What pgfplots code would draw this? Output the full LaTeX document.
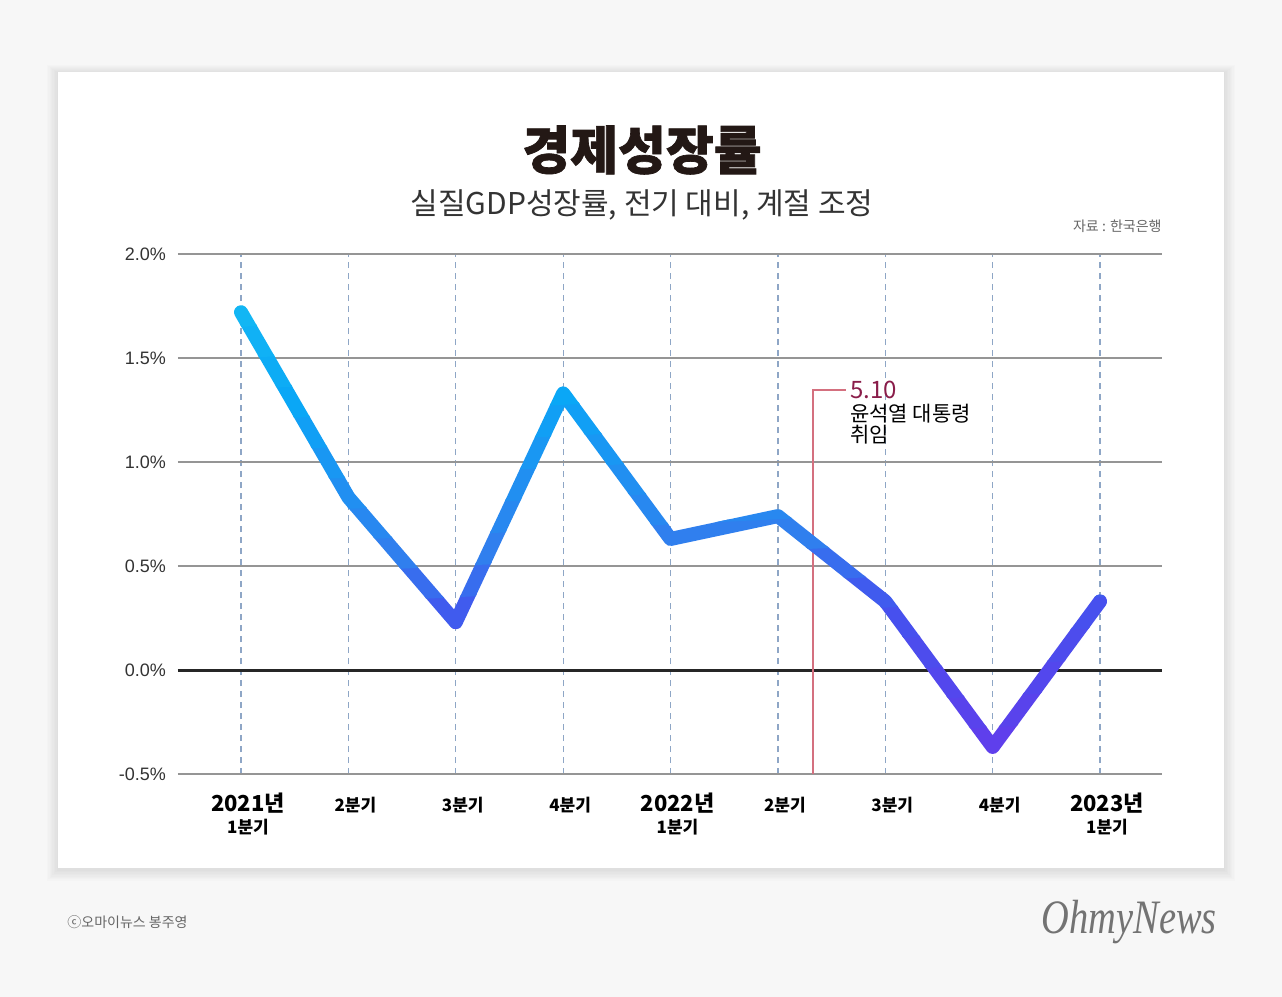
\documentclass[border=0pt]{standalone}
\usepackage{fontspec}
\setmainfont{Noto Sans CJK KR}
\newfontfamily\heavy[BoldFeatures={FakeBold=1.3}]{Noto Sans CJK KR}
\newfontfamily\lib{Liberation Sans}
\newfontfamily\libserif{Liberation Serif}
\usepackage{pgfplots}
\usepackage{pgfplotstable}
\pgfplotsset{compat=1.18}
\definecolor{bg}{HTML}{F7F7F7}
\definecolor{vgrid}{HTML}{8EA6C6}
\definecolor{hgrid}{HTML}{959595}
\definecolor{annot}{HTML}{D4707F}
\definecolor{annotT}{HTML}{8A1D4A}
\definecolor{ttl}{HTML}{231815}
\definecolor{tick}{HTML}{333333}
\definecolor{foot}{HTML}{666666}
\pgfplotstableread{
x y
0 1.72
1 0.83
2 0.23
3 1.33
4 0.63
5 0.74
6 0.33
7 -0.37
8 0.33
}\gdpdata
\newcommand\yrl[2]{{\fontsize{11}{13}\selectfont\bfseries #1}\\[-1pt]{\fontsize{8.5}{11}\selectfont\bfseries #2}}
\newcommand\ql[1]{{\fontsize{11}{13}\selectfont\vphantom{년}}{\fontsize{8.5}{11}\selectfont\bfseries #1}}
\newcommand\band[7]{%
  \begin{scope}
  \clip (axis cs:-1,#1) -- (axis cs:9,#2) -- (axis cs:9,#4) -- (axis cs:-1,#3) -- cycle;
  \addplot[line width=7pt, line cap=round, line join=round, color={rgb,255:red,#5;green,#6;blue,#7}] table {\gdpdata};
  \end{scope}}
\begin{document}
\begin{tikzpicture}
\useasboundingbox (0,0) rectangle (641pt,-498.5pt);
\fill[bg] (0,0) rectangle (641pt,-498.5pt);
\foreach \i in {1,...,8} {
  \fill[black, opacity=0.01] ({29pt-\i*0.7pt},{-36pt+\i*0.5pt-0.5pt}) rectangle ({612pt+\i*0.7pt},{-434pt-\i*0.7pt-0.8pt});
}
\fill[white] (29pt,-36pt) rectangle (612pt,-434pt);
\node[text=ttl, font=\heavy\bfseries\fontsize{26}{30}\selectfont] at (321pt,-75pt) {경제성장률};
\node[text=tick, font=\fontsize{15}{18}\selectfont] at (321pt,-102.5pt) {실질GDP성장률, 전기 대비, 계절 조정};
\node[text=foot, font=\fontsize{7}{9}\selectfont, anchor=east, inner sep=0pt] at (581pt,-113pt) {자료 : 한국은행};
\node[text=foot, font=\fontsize{7}{9}\selectfont, anchor=west, inner sep=0pt] at (33.5pt,-461pt) {ⓒ오마이뉴스 봉주영};
\node[text=black!55, font=\libserif\itshape\fontsize{24}{28}\selectfont, anchor=base east, inner sep=0pt, xscale=0.8] at (608.5pt,-466.5pt) {OhmyNews};
\begin{axis}[
  at={(89pt,-387pt)}, anchor=south west, scale only axis,
  width=492pt, height=260pt,
  xmin=-0.587, xmax=8.577, ymin=-0.5, ymax=2.0,
  axis line style={draw=none},
  major tick length=0pt,
  xtick={0,1,2,3,4,5,6,7,8},
  xticklabels={{\yrl{2021년}{1분기}},{\ql{2분기}},{\ql{3분기}},{\ql{4분기}},{\yrl{2022년}{1분기}},{\ql{2분기}},{\ql{3분기}},{\ql{4분기}},{\yrl{2023년}{1분기}}},
  ytick={-0.5,0,0.5,1,1.5,2},
  xmajorgrids, ymajorgrids,
  x grid style={vgrid, dash pattern=on 3pt off 2.5pt, line width=0.6pt},
  y grid style={hgrid, line width=0.9pt},
  /pgf/number format/assume math mode=true,
  yticklabel={\pgfmathprintnumber[fixed,fixed zerofill,precision=1]{\tick}\%},
  yticklabel style={font=\lib\fontsize{9}{11}\selectfont, text=tick, anchor=east, xshift=-2.5pt},
  xticklabel style={align=center, anchor=north, yshift=-6pt, xshift=3.5pt, text=black},
  clip=false,
]
\draw[black!85, line width=1.5pt] (axis cs:-0.587,0) -- (axis cs:8.577,0);
\draw[annot, line width=0.6pt] (axis cs:5.326,-0.5) -- (axis cs:5.326,1.346) -- (axis cs:5.633,1.346);
\node[text=annotT, font=\fontsize{12}{14}\selectfont, anchor=mid west, inner sep=0pt] at (axis cs:5.67,1.33) {5.10};
\node[text=black, font=\fontsize{10.5}{10.5}\selectfont, anchor=north west, inner sep=0pt, align=left] at (axis cs:5.67,1.279) {윤석열 대통령\\취임};
\band{-3.025}{-2.775}{-0.465}{-0.215}{95}{63}{236}
\band{-0.475}{-0.225}{-0.315}{-0.065}{89}{67}{236}
\band{-0.325}{-0.075}{-0.165}{0.085}{83}{71}{237}
\band{-0.175}{0.075}{-0.015}{0.235}{77}{76}{237}
\band{-0.025}{0.225}{0.135}{0.385}{71}{80}{238}
\band{0.125}{0.375}{0.285}{0.535}{64}{91}{238}
\band{0.275}{0.525}{0.435}{0.685}{56}{109}{238}
\band{0.425}{0.675}{0.585}{0.835}{48}{127}{238}
\band{0.575}{0.825}{0.735}{0.985}{40}{136}{240}
\band{0.725}{0.975}{0.885}{1.135}{33}{143}{241}
\band{0.875}{1.125}{1.035}{1.285}{25}{151}{243}
\band{1.025}{1.275}{1.185}{1.435}{17}{159}{245}
\band{1.175}{1.425}{1.335}{1.585}{10}{167}{246}
\band{1.325}{1.575}{1.485}{1.735}{13}{172}{245}
\band{1.475}{1.725}{1.635}{1.885}{16}{177}{245}
\band{1.625}{1.875}{3.975}{4.225}{18}{182}{244}
\end{axis}
\end{tikzpicture}
\end{document}
